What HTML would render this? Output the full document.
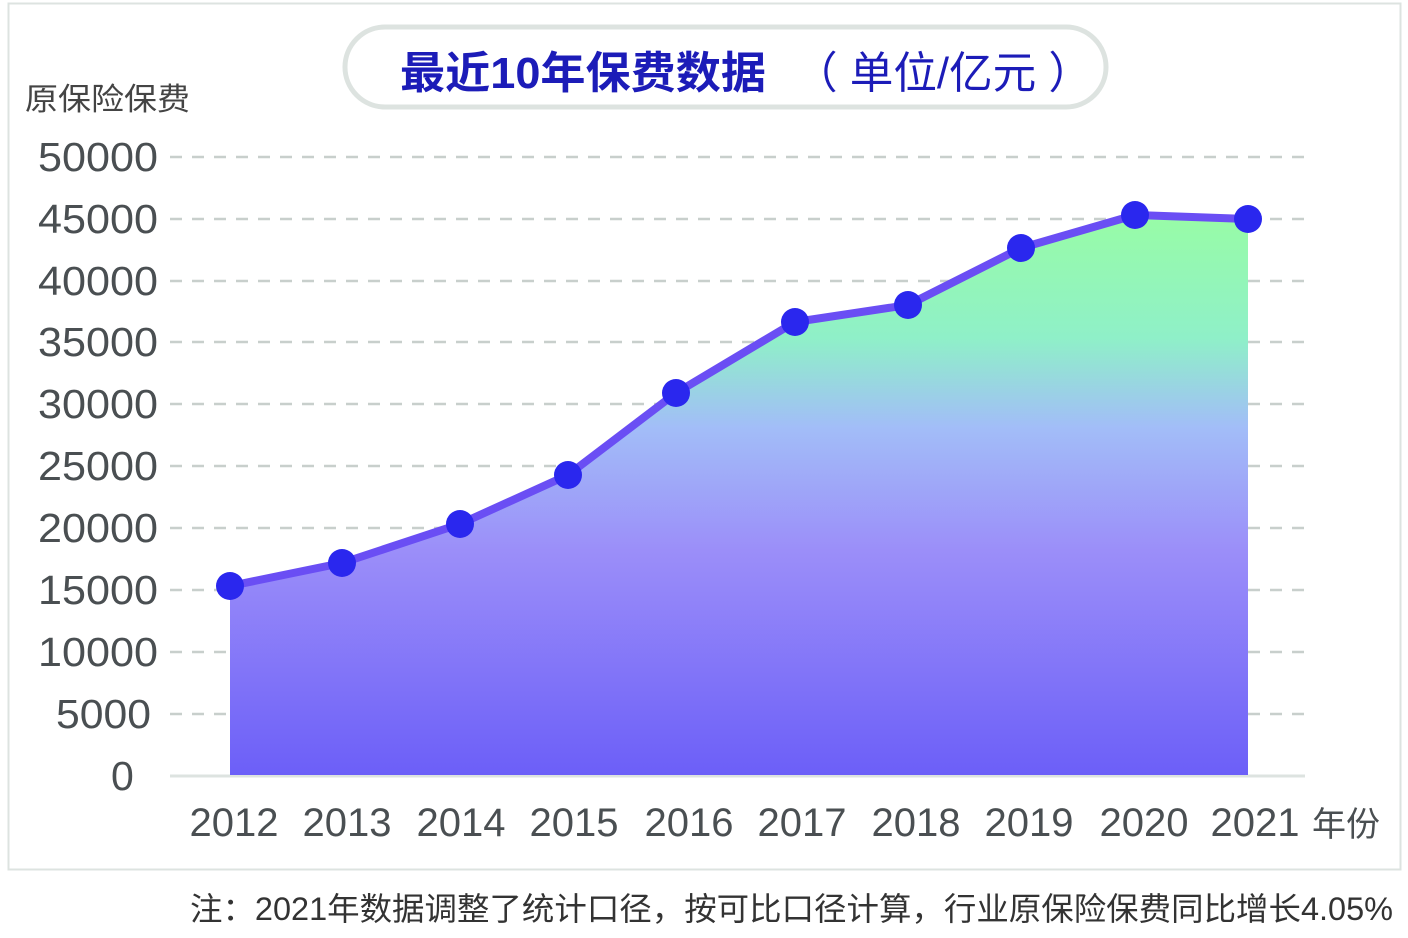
<!DOCTYPE html>
<html><head><meta charset="utf-8"><style>
html,body{margin:0;padding:0;background:#fff;}
</style></head><body>
<svg width="1408" height="933" viewBox="0 0 1408 933" xmlns="http://www.w3.org/2000/svg" font-family="Liberation Sans, Noto Sans CJK SC, sans-serif">
<defs>
<linearGradient id="g" x1="0" y1="215" x2="0" y2="775" gradientUnits="userSpaceOnUse">
<stop offset="0" stop-color="#98fca6"/>
<stop offset="0.22" stop-color="#8ff0c8"/>
<stop offset="0.38" stop-color="#a2bdf8"/>
<stop offset="0.6" stop-color="#9b8ef9"/>
<stop offset="1" stop-color="#6c5ff8"/>
</linearGradient>
</defs>
<rect x="8.5" y="3.5" width="1392" height="866" fill="#fff" stroke="#dde3e0" stroke-width="2"/>
<rect x="345" y="27" width="761" height="80" rx="40" fill="#fff" stroke="#dde3e0" stroke-width="5"/>
<text x="400" y="88" font-size="44" font-weight="bold" fill="#1c1cb8" textLength="366" lengthAdjust="spacingAndGlyphs">最近10年保费数据</text>
<text x="794" y="88" font-size="44" fill="#1c1cb8" textLength="298" lengthAdjust="spacingAndGlyphs">（ 单位/亿元 ）</text>
<text x="25" y="110" font-size="31" fill="#444" textLength="165" lengthAdjust="spacingAndGlyphs">原保险保费</text>
<g stroke="#c8cfcc" stroke-width="2.5" stroke-dasharray="12,10">
<line x1="170" y1="157" x2="1305" y2="157"/><line x1="170" y1="219" x2="1305" y2="219"/>
<line x1="170" y1="281" x2="1305" y2="281"/><line x1="170" y1="342" x2="1305" y2="342"/>
<line x1="170" y1="404" x2="1305" y2="404"/><line x1="170" y1="466" x2="1305" y2="466"/>
<line x1="170" y1="528" x2="1305" y2="528"/><line x1="170" y1="590" x2="1305" y2="590"/>
<line x1="170" y1="652" x2="1305" y2="652"/><line x1="170" y1="714" x2="1305" y2="714"/>
</g>
<line x1="170" y1="776" x2="1305" y2="776" stroke="#dde3e0" stroke-width="3"/>
<g font-size="41" fill="#4a4f52">
<text x="38" y="171" textLength="120" lengthAdjust="spacingAndGlyphs">50000</text>
<text x="38" y="233" textLength="120" lengthAdjust="spacingAndGlyphs">45000</text>
<text x="38" y="295" textLength="120" lengthAdjust="spacingAndGlyphs">40000</text>
<text x="38" y="356" textLength="120" lengthAdjust="spacingAndGlyphs">35000</text>
<text x="38" y="418" textLength="120" lengthAdjust="spacingAndGlyphs">30000</text>
<text x="38" y="480" textLength="120" lengthAdjust="spacingAndGlyphs">25000</text>
<text x="38" y="542" textLength="120" lengthAdjust="spacingAndGlyphs">20000</text>
<text x="38" y="604" textLength="120" lengthAdjust="spacingAndGlyphs">15000</text>
<text x="38" y="666" textLength="120" lengthAdjust="spacingAndGlyphs">10000</text>
<text x="56" y="728" textLength="95" lengthAdjust="spacingAndGlyphs">5000</text>
<text x="111" y="790">0</text>
</g>
<path d="M230,586 L342,563 L460,524 L568,475 L676,393 L795,322 L908,305 L1021,248 L1135,215 L1248,219 L1248,775 L230,775 Z" fill="url(#g)"/>
<polyline points="230,586 342,563 460,524 568,475 676,393 795,322 908,305 1021,248 1135,215 1248,219" fill="none" stroke="#6a4ef4" stroke-width="8" stroke-linejoin="round"/>
<g fill="#2a27ee">
<circle cx="230" cy="586" r="14"/><circle cx="342" cy="563" r="14"/><circle cx="460" cy="524" r="14"/>
<circle cx="568" cy="475" r="14"/><circle cx="676" cy="393" r="14"/><circle cx="795" cy="322" r="14"/>
<circle cx="908" cy="305" r="14"/><circle cx="1021" cy="248" r="14"/><circle cx="1135" cy="215" r="14"/>
<circle cx="1248" cy="219" r="14"/>
</g>
<g font-size="40" fill="#4a4f52" text-anchor="middle">
<text x="234" y="836">2012</text><text x="347" y="836">2013</text><text x="461" y="836">2014</text>
<text x="574" y="836">2015</text><text x="689" y="836">2016</text><text x="802" y="836">2017</text>
<text x="916" y="836">2018</text><text x="1029" y="836">2019</text><text x="1144" y="836">2020</text>
<text x="1255" y="836">2021</text>
</g>
<text x="1312" y="836" font-size="34" fill="#4a4f52">年份</text>
<text x="190" y="920" font-size="32" fill="#333" textLength="1203" lengthAdjust="spacingAndGlyphs">注：2021年数据调整了统计口径，按可比口径计算，行业原保险保费同比增长4.05%</text>
</svg>
</body></html>
